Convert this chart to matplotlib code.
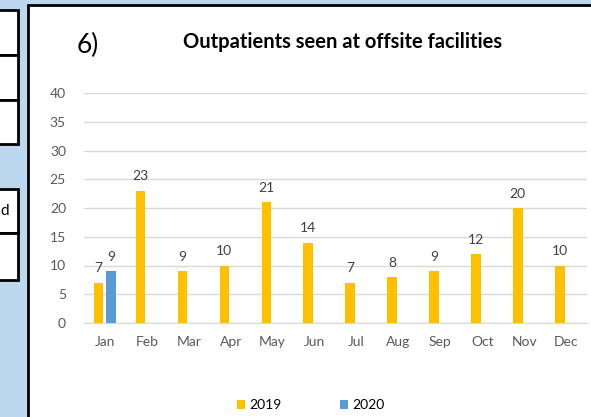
import numpy as np
import matplotlib
matplotlib.use("Agg")
import matplotlib.pyplot as plt
from matplotlib.patches import Rectangle

plt.rcParams["font.family"] = ["Lato", "DejaVu Sans"]

# --- Data ---
months = ["Jan", "Feb", "Mar", "Apr", "May", "Jun",
          "Jul", "Aug", "Sep", "Oct", "Nov", "Dec"]
vals_2019 = [7, 23, 9, 10, 21, 14, 7, 8, 9, 12, 20, 10]
vals_2020 = [9, np.nan, np.nan, np.nan, np.nan, np.nan,
             np.nan, np.nan, np.nan, np.nan, np.nan, np.nan]
y_ticks = [0, 5, 10, 15, 20, 25, 30, 35, 40]

W, H = 591, 417
C2019 = "#FFC000"
C2020 = "#5B9BD5"
TXT = "#595959"

fig = plt.figure(figsize=(W / 100, H / 100), dpi=100)
fig.patch.set_facecolor("#BDD7EE")


def px_rect(x0, y0, x1, y1, **kw):
    # rectangle given in pixel coords, y measured from top
    r = Rectangle((x0 / W, 1 - y1 / H), (x1 - x0) / W, (y1 - y0) / H,
                  transform=fig.transFigure, zorder=-1, **kw)
    fig.add_artist(r)


# cut-off table cells on the left
for y0, y1 in [(10, 55), (55, 100), (100, 144), (189, 233), (233, 280)]:
    px_rect(-10, y0, 18, y1, facecolor="white", edgecolor="black", lw=2)
fig.text(0 / W, 1 - 211 / H, "d", fontsize=11, ha="left", va="center")

# chart box
px_rect(28, 5, W + 10, H + 10, facecolor="white", edgecolor="black", lw=2)

ax = fig.add_axes([84 / W, 1 - 323 / H, (587 - 84) / W, (323 - 93) / H])
ax.set_facecolor("none")

x = np.arange(len(months))
off, bw = 0.15, 0.23
ax.bar(x - off, vals_2019, bw, color=C2019, label="2019", zorder=3)
ax.bar(x + off, vals_2020, bw, color=C2020, label="2020", zorder=3)

for i, v in enumerate(vals_2019):
    ax.annotate(str(v), (x[i] - off, v), xytext=(0, 6), textcoords="offset points",
                ha="center", va="bottom", fontsize=10, color="#404040")
for i, v in enumerate(vals_2020):
    if not np.isnan(v):
        ax.annotate(str(int(v)), (x[i] + off, v), xytext=(0, 6), textcoords="offset points",
                    ha="center", va="bottom", fontsize=10, color="#404040")

ax.set_xlim(-0.5, 11.5)
ax.set_ylim(0, 40)
ax.set_yticks(y_ticks)
ax.set_xticks(x)
ax.set_xticklabels(months)
ax.tick_params(axis="both", length=0, labelsize=10, colors=TXT)
ax.tick_params(axis="y", pad=13)
ax.tick_params(axis="x", pad=9)
ax.grid(axis="y", color="#D9D9D9", lw=1, zorder=0)
for s in ["top", "right", "left"]:
    ax.spines[s].set_visible(False)
ax.spines["bottom"].set_color("#D9D9D9")

fig.text(77 / W, 1 - 45 / H, "6)", fontsize=19, ha="left", va="center")
fig.text(343 / W, 1 - 42 / H, "Outpatients seen at offsite facilities",
         fontsize=14.5, fontweight="bold", ha="center", va="center")

fig.legend(loc="center", bbox_to_anchor=(311 / W, 1 - 405 / H), ncol=2,
           frameon=False, fontsize=10, handlelength=0.6, handleheight=0.6,
           columnspacing=4.2, handletextpad=0.3)

fig.savefig("out.png", dpi=100, facecolor=fig.get_facecolor())
